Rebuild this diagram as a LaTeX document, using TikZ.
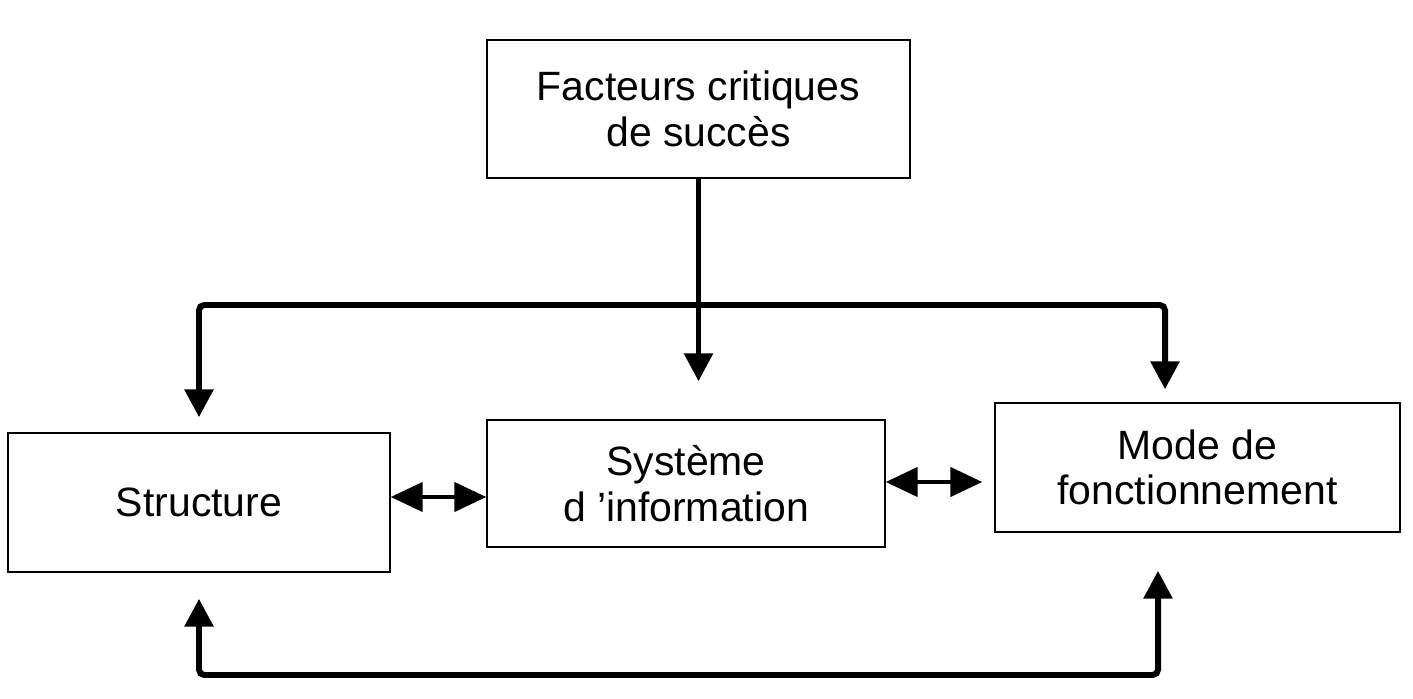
\documentclass[tikz,border=0pt]{standalone}
\usepackage{fontspec}
\setmainfont{Liberation Sans}
\usetikzlibrary{arrows.meta}
\begin{document}
\begin{tikzpicture}[>={Triangle[width=0.56cm,length=0.56cm]},
    boite/.style={draw,line width=0.8pt,align=center,inner sep=0pt,font=\fontsize{23.3}{26}\selectfont},
    lien/.style={line width=3.4pt,rounded corners=3pt},
    lienbi/.style={{Triangle[width=0.58cm,length=0.64cm]}-{Triangle[width=0.58cm,length=0.64cm]},line width=2.6pt}]
    \useasboundingbox (0,0) rectangle (28.26,-13.98);
    \node[boite,minimum width=8.46cm,minimum height=2.76cm] (facteurs) at (13.97,-2.18) {Facteurs critiques\\de succès};
    \node[boite,minimum width=7.64cm,minimum height=2.78cm] (structure) at (3.98,-10.05) {Structure};
    \node[boite,minimum width=7.96cm,minimum height=2.54cm] (systeme) at (13.72,-9.67) {Système\\d 'information};
    \node[boite,minimum width=8.10cm,minimum height=2.58cm] (mode) at (23.95,-9.35) {Mode de\\fonctionnement};
    % lignes de repartition
    \coordinate (bus) at (0,-6.10);
    \coordinate (base) at (0,-13.50);
    \coordinate (rangA) at (0,-9.94);
    \coordinate (rangB) at (0,-9.64);
    \coordinate (droite) at (23.30,0);
    \coordinate (droiteb) at (23.16,0);
    \draw[lien,->,shorten >=0.76cm] (facteurs.south) -- (facteurs.south |- systeme.north);
    \draw[lien,<->,shorten <=0.30cm,shorten >=0.26cm] (structure.north) |- (bus -| droite) -- (droite |- mode.north);
    \draw[lien,<->,shorten <=0.52cm,shorten >=0.76cm] (structure.south) |- (base -| droiteb) -- (droiteb |- mode.south);
    % echanges entre les blocs
    \draw[lienbi] (structure.east |- rangA) -- (systeme.west |- rangA);
    \draw[lienbi,shorten >=0.24cm] (systeme.east |- rangB) -- (mode.west |- rangB);
\end{tikzpicture}
\end{document}
